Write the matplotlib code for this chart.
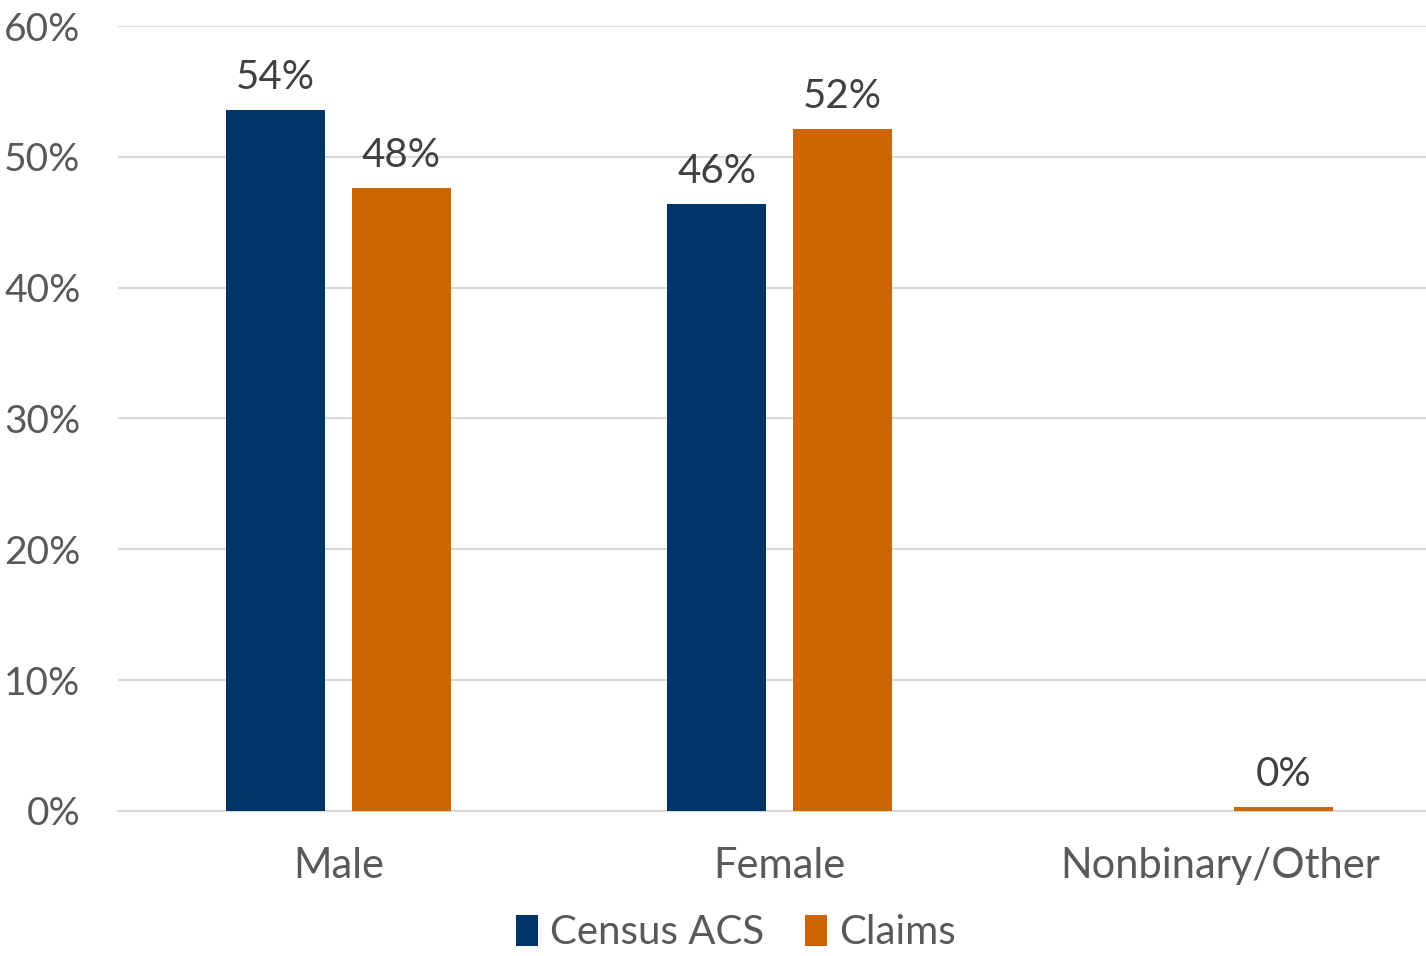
import matplotlib
matplotlib.use('Agg')
import matplotlib.pyplot as plt
import numpy as np

plt.rcParams['font.family'] = ['Lato', 'DejaVu Sans']

categories = ['Male', 'Female', 'Nonbinary/Other']
census_acs = [53.6, 46.4, np.nan]
claims = [47.6, 52.1, 0.3]
census_labels = ['54%', '46%', '']
claims_labels = ['48%', '52%', '0%']

navy = '#003366'
orange = '#CC6600'

fig = plt.figure(figsize=(14.26, 9.56), dpi=100)
# plot area runs a little past the right edge, as in the reference
ax = fig.add_axes([0.0827, 0.1517, 0.9278, 0.8211])

x = np.arange(len(categories))
w = 0.224
off = 0.1423

b1 = ax.bar(x - off, census_acs, w, color=navy, label='Census ACS', zorder=3)
b2 = ax.bar(x + off, claims, w, color=orange, label='Claims', zorder=3)

for bars, labels in ((b1, census_labels), (b2, claims_labels)):
    for bar, lab in zip(bars, labels):
        if not lab:
            continue
        ax.annotate(lab, (bar.get_x() + bar.get_width() / 2, bar.get_height()),
                    xytext=(0, 10), textcoords='offset points',
                    ha='center', va='bottom', fontsize=29, color='#404040')

ax.set_xlim(-0.5, 2.5)
ax.set_ylim(0, 60)
ax.set_yticks(np.arange(0, 61, 10))
ax.set_yticklabels(['{}%'.format(v) for v in range(0, 61, 10)])
ax.set_xticks(x)
ax.set_xticklabels(categories)
ax.tick_params(axis='y', length=0, pad=27, labelsize=28, labelcolor='#595959')
ax.tick_params(axis='x', length=0, pad=26, labelsize=30, labelcolor='#595959')

ax.grid(axis='y', color='#D9D9D9', linewidth=1.5, zorder=0)
ax.set_axisbelow(True)
for side in ['top', 'right', 'left']:
    ax.spines[side].set_visible(False)
ax.spines['bottom'].set_color('#D9D9D9')
ax.spines['bottom'].set_linewidth(1.5)

leg = fig.legend(handles=[b1, b2], loc='lower center', bbox_to_anchor=(0.516, -0.033),
                 ncol=2, frameon=False, fontsize=29, handlelength=0.55, handleheight=0.8,
                 handletextpad=0.3, columnspacing=1.0)
for t in leg.get_texts():
    t.set_color('#595959')

fig.savefig('out.png', dpi=100)
